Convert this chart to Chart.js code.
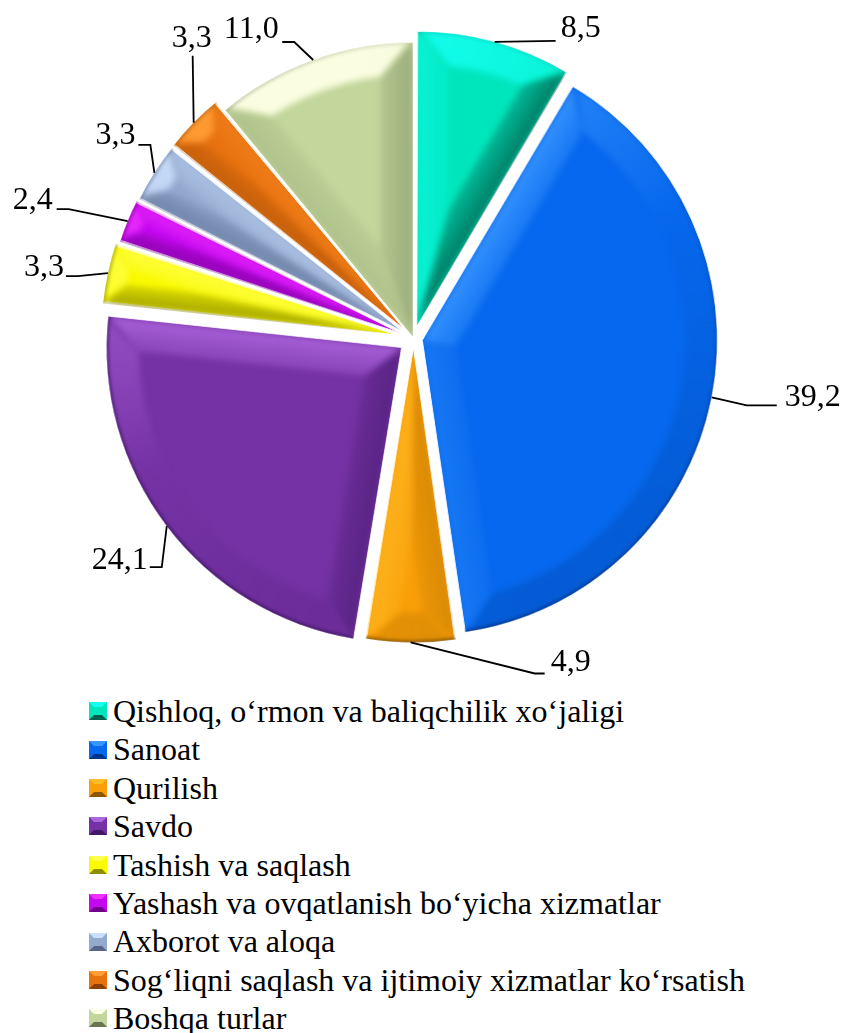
<!DOCTYPE html>
<html>
<head>
<meta charset="utf-8">
<title>Tarmoqlar ulushi</title>
<script src="https://cdn.jsdelivr.net/npm/chart.js@4"></script>
<style>
    body { margin: 0; background: #fff; width: 842px; height: 1033px; overflow: hidden; position: relative; }
    canvas { position: absolute; left: 0; top: 0; }
    #legend { position: absolute; left: 89px; top: 692px; font: 32px "Liberation Serif", serif; color: #000; white-space: nowrap; }
    .legend-row { height: 38.4px; line-height: 38.4px; display: flex; align-items: center; }
    .legend-box { width: 18px; height: 18px; box-sizing: border-box; border: 5px solid; margin-right: 6px; flex: none; }
</style>
</head>
<body>
<canvas id="pieChart" width="842" height="680"></canvas>
<div id="legend"></div>
<script>
// Data
const categories = [
    'Qishloq, o‘rmon va baliqchilik xo‘jaligi',
    'Sanoat',
    'Qurilish',
    'Savdo',
    'Tashish va saqlash',
    'Yashash va ovqatlanish bo‘yicha xizmatlar',
    'Axborot va aloqa',
    'Sog‘liqni saqlash va ijtimoiy xizmatlar ko‘rsatish',
    'Boshqa turlar'
];
const shares = [8.5, 39.2, 4.9, 24.1, 3.3, 2.4, 3.3, 3.3, 11.0];
const shareLabels = ['8,5', '39,2', '4,9', '24,1', '3,3', '2,4', '3,3', '3,3', '11,0'];

// Slice colours: base, highlight and shadow
const baseColors = ['#00E6BC', '#0668EE', '#F99F08', '#7532A4', '#FAFA00', '#C408F0', '#93AACF', '#E8720F', '#C3D69B'];
const lightColors = ['#14FFF0', '#3A96FF', '#FFBC28', '#AE66DE', '#FFFF50', '#F030FF', '#CBDEFC', '#FF9C34', '#FDFFE4'];
const darkColors = ['#00604E', '#003486', '#8E5800', '#42186A', '#8E8E00', '#72008C', '#56668A', '#8A4006', '#687452'];

// How far each slice is pulled out, in pixels
const explode = [12.5, 9, 9, 15, 17.5, 14, 12.5, 13, 1];
// Leader lines, relative to the middle of each slice's rim: elbow, end, label centre
const leaderElbow = [[61, -1], [35, 8], [124, 31], [-5, 41], [-30, 3], [-59, -12], [-4, -28], [-1, -67], [-19, -18]];
const leaderEnd = [[61, -1], [65, 8], [134, 31], [-17, 41], [-42, 3], [-71, -12], [-16, -28], [-1, -67], [-31, -18]];
const labelPos = [[86, -13], [101, 0], [160, 20], [-47, 34], [-64, -6], [-95, -21], [-39, -37], [-2, -84], [-62, -30]];

const RADIUS = 295;
const LIGHT = { x: -0.45, y: -0.89 };

function withAlpha(hex, alpha) {
    const n = parseInt(hex.slice(1), 16);
    return `rgba(${n >> 16},${(n >> 8) & 255},${n & 255},${alpha})`;
}

// Colour of a bevel face whose outward normal points at this angle
function shade(i, angle, darkScale, fade) {
    const s = Math.cos(angle) * LIGHT.x + Math.sin(angle) * LIGHT.y;
    return s > 0
        ? withAlpha(lightColors[i], Math.min(1, s * 1.05) * fade)
        : withAlpha(darkColors[i], Math.min(1, -s * darkScale) * fade);
}

// Real centre of a slice once Chart.js has applied its offset
function sliceGeometry(arc, i) {
    const mid = (arc.startAngle + arc.endAngle) / 2;
    return {
        cx: arc.x + Math.cos(mid) * explode[i],
        cy: arc.y + Math.sin(mid) * explode[i],
        a0: arc.startAngle,
        a1: arc.endAngle,
        mid: mid
    };
}

function drawBevel(ctx, arc, i) {
    const g = sliceGeometry(arc, i);
    const half = (g.a1 - g.a0) / 2;
    const sinHalf = Math.sin(Math.min(half, Math.PI / 2));
    const inscribed = RADIUS * sinHalf / (1 + sinHalf);
    const w = Math.min(32, inscribed * 0.75);
    const rInner = RADIUS - w;
    const skew = Math.asin(w / rInner);
    const at = (angle, r) => [g.cx + Math.cos(angle) * r, g.cy + Math.sin(angle) * r];
    const apex2 = at(g.mid, w / sinHalf);
    const A = at(g.a0, RADIUS), B = at(g.a1, RADIUS);
    const A2 = at(g.a0 + skew, rInner), B2 = at(g.a1 - skew, rInner);

    ctx.save();
    ctx.beginPath();
    ctx.moveTo(g.cx, g.cy);
    ctx.arc(g.cx, g.cy, RADIUS, g.a0, g.a1);
    ctx.closePath();
    ctx.clip();
    ctx.filter = 'blur(3px)';

    // Rim face, its shade follows the curve
    const rim = ctx.createConicGradient(0, g.cx, g.cy);
    const rimEdge = ctx.createConicGradient(0, g.cx, g.cy);
    for (let k = 0; k <= 48; k++) {
        const angle = k / 48 * Math.PI * 2;
        rim.addColorStop(k / 48, shade(i, angle, 0.25, 0.95));
        rimEdge.addColorStop(k / 48, withAlpha(darkColors[i], 0.45 + 0.35 * Math.sin(angle - 0.45)));
    }
    ctx.fillStyle = rim;
    ctx.beginPath();
    ctx.arc(g.cx, g.cy, RADIUS + 6, g.a0, g.a1);
    ctx.lineTo(B2[0], B2[1]);
    ctx.arc(g.cx, g.cy, rInner, g.a1 - skew, g.a0 + skew, true);
    ctx.lineTo(A2[0], A2[1]);
    ctx.closePath();
    ctx.fill();

    // The two straight faces, strongest at the slice edge and fading inwards
    [[A, A2, g.a0 - Math.PI / 2], [B, B2, g.a1 + Math.PI / 2]].forEach(([corner, inset, normal]) => {
        const face = ctx.createLinearGradient(g.cx, g.cy, g.cx - Math.cos(normal) * w, g.cy - Math.sin(normal) * w);
        face.addColorStop(0, shade(i, normal, 0.95, 1));
        face.addColorStop(1, shade(i, normal, 0.95, 0.4));
        ctx.fillStyle = face;
        ctx.beginPath();
        ctx.moveTo(g.cx, g.cy);
        ctx.lineTo(corner[0], corner[1]);
        ctx.lineTo(inset[0], inset[1]);
        ctx.lineTo(apex2[0], apex2[1]);
        ctx.closePath();
        ctx.fill();
    });

    // Thin dark edge on the curve, heaviest towards the lower right
    ctx.filter = 'blur(1.5px)';
    ctx.strokeStyle = rimEdge;
    ctx.lineWidth = 5;
    ctx.beginPath();
    ctx.arc(g.cx, g.cy, RADIUS, g.a0, g.a1);
    ctx.stroke();
    ctx.restore();
}

const bevelPlugin = {
    id: 'bevel',
    // Chart.js grows a pulled out slice, take that back so all slices keep one radius
    afterDatasetUpdate(chart) {
        chart.getDatasetMeta(0).data.forEach((arc, i) => {
            const fix = 1 - Math.sin(Math.min(Math.PI, arc.circumference));
            arc.outerRadius = RADIUS - explode[i] * fix;
        });
    },
    afterDatasetDraw(chart) {
        chart.getDatasetMeta(0).data.forEach((arc, i) => drawBevel(chart.ctx, arc, i));
    }
};

const leaderPlugin = {
    id: 'leaders',
    afterDraw(chart) {
        const ctx = chart.ctx;
        ctx.save();
        ctx.strokeStyle = '#000';
        ctx.lineWidth = 1.8;
        ctx.fillStyle = '#000';
        ctx.font = '32px "Liberation Serif", serif';
        ctx.textAlign = 'center';
        ctx.textBaseline = 'middle';
        chart.getDatasetMeta(0).data.forEach((arc, i) => {
            const g = sliceGeometry(arc, i);
            const x = g.cx + Math.cos(g.mid) * RADIUS;
            const y = g.cy + Math.sin(g.mid) * RADIUS;
            ctx.beginPath();
            ctx.moveTo(x, y);
            ctx.lineTo(x + leaderElbow[i][0], y + leaderElbow[i][1]);
            ctx.lineTo(x + leaderEnd[i][0], y + leaderEnd[i][1]);
            ctx.stroke();
            ctx.fillText(shareLabels[i], x + labelPos[i][0], y + labelPos[i][1]);
        });
        ctx.restore();
    }
};

new Chart(document.getElementById('pieChart').getContext('2d'), {
    type: 'pie',
    data: {
        labels: categories,
        datasets: [{
            data: shares,
            backgroundColor: baseColors,
            borderColor: '#fff',
            borderWidth: 1,
            offset: explode.map(px => px * 4), // Chart.js moves a slice by offset / 4
            radius: RADIUS,
            clip: false
        }]
    },
    options: {
        responsive: false,
        animation: false,
        layout: { padding: { right: 15, bottom: 3 } },
        plugins: {
            legend: { display: false },
            tooltip: { enabled: false }
        }
    },
    plugins: [bevelPlugin, leaderPlugin]
});

// Legend rows with the bevelled squares
const legend = document.getElementById('legend');
for (var i = 0; i < categories.length; i++) {
    const row = document.createElement('div');
    row.className = 'legend-row';

    const box = document.createElement('span');
    box.className = 'legend-box';
    box.style.background = baseColors[i];
    box.style.borderColor = `${lightColors[i]} ${baseColors[i]} ${darkColors[i]} ${baseColors[i]}`;
    row.appendChild(box);

    const text = document.createElement('span');
    text.textContent = categories[i];
    row.appendChild(text);

    legend.appendChild(row);
}
</script>
</body>
</html>
